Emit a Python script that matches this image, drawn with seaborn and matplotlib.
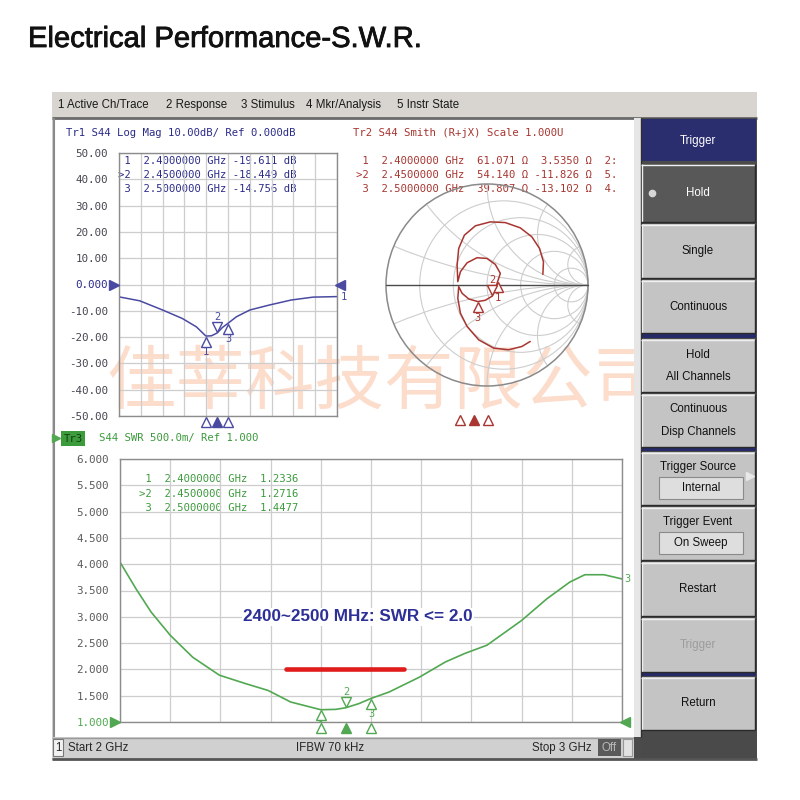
import numpy as np
import matplotlib
matplotlib.use("Agg")
import matplotlib.pyplot as plt
import matplotlib.patches as mpatches
import matplotlib.patheffects as pe
from matplotlib import font_manager
from matplotlib.transforms import offset_copy
import seaborn as sns

# ---- values ----
# Tr1: S44 log magnitude (dB)
tr1_freq = [2.0, 2.095, 2.2, 2.29, 2.355, 2.396, 2.4, 2.424, 2.45, 2.475, 2.5,
            2.538, 2.6, 2.69, 2.79, 2.89, 3.0]
tr1_db = [-4.7, -6.2, -9.7, -12.9, -16.1, -19.4, -19.611, -19.5, -18.449, -16.3,
          -14.756, -12.3, -9.7, -7.8, -5.9, -4.8, -4.6]

# Tr3: S44 SWR
tr3_freq = [2.0, 2.032, 2.062, 2.1, 2.145, 2.198, 2.25, 2.295, 2.34, 2.385, 2.4,
            2.43, 2.45, 2.476, 2.5, 2.536, 2.596, 2.648, 2.686, 2.731, 2.8, 2.85,
            2.896, 2.926, 2.964, 3.0]
tr3_swr = [4.04, 3.53, 3.09, 2.65, 2.23, 1.89, 1.73, 1.60, 1.38, 1.27, 1.2336,
           1.24, 1.2716, 1.35, 1.4477, 1.57, 1.85, 2.14, 2.30, 2.46, 2.93, 3.34,
           3.66, 3.80, 3.80, 3.72]

# Tr2: Smith chart trace as reflection coefficient (real, imag)
tr2_re = [0.553, 0.559, 0.520, 0.444, 0.329, 0.181, 0.033, -0.115, -0.224, -0.280,
          -0.296, -0.289, -0.263, -0.197, -0.099, 0.0, 0.082, 0.132, 0.105, 0.082,
          0.053, -0.016, -0.092, -0.181, -0.247, -0.280, -0.289, -0.263, -0.197,
          -0.082, 0.066, 0.214, 0.345, 0.428]
tr2_im = [0.105, 0.230, 0.362, 0.477, 0.566, 0.618, 0.625, 0.586, 0.493, 0.362,
          0.197, 0.033, 0.132, 0.220, 0.270, 0.263, 0.204, 0.115, 0.033, -0.039,
          -0.109, -0.151, -0.164, -0.138, -0.082, -0.016, -0.132, -0.280, -0.411,
          -0.543, -0.625, -0.641, -0.609, -0.559]

# markers
marker_freq = [2.4, 2.45, 2.5]
marker_db = [-19.611, -18.449, -14.756]
marker_swr = [1.2336, 1.2716, 1.4477]
marker_r = [61.071, 54.140, 39.807]
marker_x = [3.5350, -11.826, -13.102]
marker_cut = ["2:", "5.", "4."]
marker_re = [0.105, 0.053, -0.092]
marker_im = [0.033, -0.109, -0.164]
active_marker = 1

# spec line drawn on the SWR trace
spec_freq = [2.33, 2.565]
spec_swr = [2.0, 2.0]

db_ticks = [50, 40, 30, 20, 10, 0, -10, -20, -30, -40, -50]
db_labels = ["50.00", "40.00", "30.00", "20.00", "10.00", "0.000",
             "-10.00", "-20.00", "-30.00", "-40.00", "-50.00"]
swr_ticks = [6.0, 5.5, 5.0, 4.5, 4.0, 3.5, 3.0, 2.5, 2.0, 1.5, 1.0]
swr_labels = ["6.000", "5.500", "5.000", "4.500", "4.000", "3.500",
              "3.000", "2.500", "2.000", "1.500", "1.000"]

menu_items = ["1 Active Ch/Trace", "2 Response", "3 Stimulus", "4 Mkr/Analysis", "5 Instr State"]
menu_x = [58, 166, 241, 306, 397]

softkeys = [
    ("Hold", 164, 222, "dark"),
    ("Single", 224, 278, "normal"),
    ("Continuous", 280, 333, "normal"),
    ("Hold\nAll Channels", 339, 392, "normal"),
    ("Continuous\nDisp Channels", 394, 447, "normal"),
    ("Trigger Source\nInternal", 452, 505, "field"),
    ("Trigger Event\nOn Sweep", 507, 560, "field"),
    ("Restart", 562, 616, "normal"),
    ("Trigger", 618, 672, "disabled"),
    ("Return", 677, 730, "normal"),
]

BLUE = "#4a4aa2"
BLUE_TXT = "#2b2b8a"
RED = "#a83530"
GREEN = "#52a852"
GRID = "#cdcdcd"
MONO = "DejaVu Sans Mono"

sns.set_theme(style="white")
plt.rcParams["font.family"] = ["DejaVu Sans", "Noto Sans CJK SC"]

names = {f.name for f in font_manager.fontManager.ttflist}
HAS_NARROW = "Liberation Sans Narrow" in names
UI = ["Liberation Sans Narrow", "Liberation Sans"] if HAS_NARROW else ["Liberation Sans"]
UI_SIZE = 9.5 if HAS_NARROW else 8.3

fig = plt.figure(figsize=(8, 8), dpi=100, facecolor="white")


def box(x0, y0, x1, y1):
    return [x0 / 800, 1 - y1 / 800, (x1 - x0) / 800, (y1 - y0) / 800]


ui = fig.add_axes([0, 0, 1, 1])
ui.set_xlim(0, 800)
ui.set_ylim(800, 0)
ui.axis("off")


def rect(x0, y0, x1, y1, fc, ec="none", lw=0.0, z=1):
    ui.add_patch(mpatches.Rectangle((x0, y0), x1 - x0, y1 - y0, fc=fc, ec=ec, lw=lw, zorder=z))


def hline(x0, x1, y, c, lw=1.0, z=3):
    ui.plot([x0, x1], [y, y], color=c, lw=lw, zorder=z, solid_capstyle="butt")


def vline(x, y0, y1, c, lw=1.0, z=3):
    ui.plot([x, x], [y0, y1], color=c, lw=lw, zorder=z, solid_capstyle="butt")


# title
ui.text(28, 47, "Electrical Performance-S.W.R.", fontsize=21, family="Liberation Sans",
        color="#111111", va="baseline", ha="left",
        path_effects=[pe.withStroke(linewidth=0.6, foreground="#111111")])

# window frame, menu bar, display
rect(52, 92, 757, 760, "#cfcfcf")
rect(52, 92, 757, 117, "#d8d5d0", z=2)
hline(52, 757, 117.5, "#6a6a6a", lw=2)
for item, x in zip(menu_items, menu_x):
    ui.text(x, 105, item, fontsize=UI_SIZE, family=UI, color="#1a1a1a", va="center", ha="left", zorder=3)
rect(55, 119, 634, 737, "white", z=1)
vline(54, 118, 758, "#8a8a8a", lw=1.5)

# watermark
ui.text(106, 383, "佳莘科技有限公司", fontsize=50, family=["Noto Sans CJK SC"],
        color="#fcdccb", va="center", ha="left", zorder=2)

# status bar
rect(52, 737, 634, 758, "#d0d0d0", z=3)
hline(52, 634, 737.5, "#9a9a9a", z=4)
rect(53, 739, 63, 756, "#f2f2f2", ec="#777777", lw=0.8, z=4)
ui.text(58, 748, "1", fontsize=UI_SIZE, family=UI, ha="center", va="center", zorder=5)
ui.text(68, 748, "Start 2 GHz", fontsize=UI_SIZE, family=UI, ha="left", va="center", zorder=5)
ui.text(330, 748, "IFBW 70 kHz", fontsize=UI_SIZE, family=UI, ha="center", va="center", zorder=5)
ui.text(592, 748, "Stop 3 GHz", fontsize=UI_SIZE, family=UI, ha="right", va="center", zorder=5)
rect(598, 739, 621, 756, "#5a5a5a", z=4)
ui.text(609.5, 748, "Off", fontsize=UI_SIZE, family=UI, color="#b8b8b8", ha="center", va="center", zorder=5)
rect(623, 739, 632, 756, "#e2e2e2", ec="#999999", lw=0.8, z=4)
hline(52, 757, 759, "#555555", lw=2, z=6)

# softkey panel
rect(634, 118, 757, 760, "#4b4b4b", z=4)
rect(634, 118, 641, 737, "#e6e6e6", z=5)
vline(640.5, 118, 737, "#303030", z=6)
rect(641, 119, 756, 161, "#2a2d6e", z=5)
ui.text(698, 141, "Trigger", fontsize=UI_SIZE, family=UI, color="white", ha="center", va="center", zorder=7)
for y0, y1 in [(333, 338), (447, 451), (672, 676)]:
    rect(641, y0, 756, y1, "#262a66", z=5)
for label, y0, y1, kind in softkeys:
    fc = "#585858" if kind == "dark" else "#c4c4c4"
    rect(641, y0, 755, y1, fc, z=5)
    hline(641, 755, y0 + 0.5, "#f0f0f0", z=6)
    vline(641.5, y0, y1, "#f0f0f0", z=6)
    hline(641, 755, y1 - 0.5, "#2a2a2a", z=6)
    vline(754.5, y0, y1, "#2a2a2a", z=6)
    tc = {"dark": "white", "disabled": "#9c9c9c"}.get(kind, "#111111")
    lines = label.split("\n")
    ym = (y0 + y1) / 2
    if kind == "field":
        ui.text(698, y0 + 15, lines[0], fontsize=UI_SIZE, family=UI, color=tc, ha="center", va="center", zorder=7)
        rect(659, y0 + 25, 743, y0 + 47, "#dedede", ec="#8a8a8a", lw=0.8, z=6)
        ui.text(701, y0 + 36, lines[1], fontsize=UI_SIZE, family=UI, color=tc, ha="center", va="center", zorder=7)
    elif len(lines) == 2:
        ui.text(698, ym - 11, lines[0], fontsize=UI_SIZE, family=UI, color=tc, ha="center", va="center", zorder=7)
        ui.text(698, ym + 11, lines[1], fontsize=UI_SIZE, family=UI, color=tc, ha="center", va="center", zorder=7)
    else:
        ui.text(698, ym, label, fontsize=UI_SIZE, family=UI, color=tc, ha="center", va="center", zorder=7)
    if kind == "dark":
        ui.plot(652, ym, "o", ms=4.5, color="#d6d6d6", zorder=7)
ui.plot(750, 476, ">", ms=6, color="#e8e8e8", zorder=7)
rect(641, 732, 756, 758, "#4a4a4a", z=5)


# ---- helpers for the measurement plots ----
def style_rect_axes(ax, ticks, labels, ref_label, ref_color, label_color):
    ax.patch.set_alpha(0)
    ax.set_xlim(2, 3)
    ax.set_xticks(np.linspace(2, 3, 11))
    ax.set_xticklabels([])
    ax.set_yticks(ticks)
    ax.set_yticklabels(labels)
    ax.grid(True, color=GRID, lw=0.9)
    ax.tick_params(length=0, pad=8, labelsize=7.8)
    for lbl in ax.get_yticklabels():
        lbl.set_fontfamily(MONO)
        lbl.set_color(ref_color if lbl.get_text() == ref_label else label_color)
    for s in ax.spines.values():
        s.set_color("#8c8c8c")
        s.set_linewidth(1.0)
    ax.set_xlabel("")
    ax.set_ylabel("")


def draw_markers(ax, xs, ys, color):
    for i, (x, y) in enumerate(zip(xs, ys)):
        sign = 1 if i == active_marker else -1
        tri = offset_copy(ax.transData, fig=fig, y=sign * 4, units="points")
        lab = offset_copy(ax.transData, fig=fig, y=sign * 11.5, units="points")
        ax.plot(x, y, marker="v" if sign > 0 else "^", ms=6.5, mfc="white", mec=color, mew=1.0,
                transform=tri, clip_on=False, zorder=6)
        ax.text(x, y, str(i + 1), transform=lab, ha="center", va="center", color=color,
                fontsize=7.5, family=MONO, zorder=6)


def draw_indicators(ax, xs, y, color):
    tr = offset_copy(ax.transData, fig=fig, y=-4.5, units="points")
    for i, x in enumerate(xs):
        ax.plot(x, y, marker="^", ms=6.5, mec=color, mew=1.0,
                mfc=color if i == active_marker else "white", transform=tr, clip_on=False, zorder=6)


def ref_arrows(ax, y, color):
    left = offset_copy(ax.transData, fig=fig, x=-3.5, units="points")
    right = offset_copy(ax.transData, fig=fig, x=2.5, units="points")
    ax.plot(2.0, y, marker=">", ms=7, color=color, transform=left, clip_on=False, zorder=6)
    ax.plot(3.0, y, marker="<", ms=7, color=color, transform=right, clip_on=False, zorder=6)


# ---- Tr1: log mag ----
ax1 = fig.add_axes(box(119, 153, 337, 416))
sns.lineplot(x=tr1_freq, y=tr1_db, ax=ax1, color=BLUE, linewidth=1.1, estimator=None, sort=False)
ax1.set_ylim(-50, 50)
style_rect_axes(ax1, db_ticks, db_labels, "0.000", BLUE_TXT, "#454550")
draw_markers(ax1, marker_freq, marker_db, BLUE)
draw_indicators(ax1, marker_freq, -50, BLUE)
ref_arrows(ax1, 0, BLUE)
end1 = offset_copy(ax1.transData, fig=fig, x=3, units="points")
ax1.text(tr1_freq[-1], tr1_db[-1], "1", transform=end1, color=BLUE, fontsize=7.5, family=MONO,
         ha="left", va="center")

ui.text(66, 133, "Tr1 S44 Log Mag 10.00dB/ Ref 0.000dB", fontsize=7.7, family=MONO,
        color=BLUE_TXT, va="center", zorder=3)
for i, (f, v) in enumerate(zip(marker_freq, marker_db)):
    p = (">" if i == active_marker else " ") + str(i + 1)
    ui.text(118, [161, 175, 189][i], f"{p}  {f:.7f} GHz {v:.3f} dB", fontsize=7.6,
            family=MONO, color=BLUE_TXT, va="center", zorder=3)

# ---- Tr2: Smith chart ----
ax2 = fig.add_axes(box(376, 174, 598, 426))
ax2.set_xlim(-1.099, 1.099)
ax2.set_ylim(-1.396, 1.099)
ax2.axis("off")
clip = mpatches.Circle((0, 0), 1, fc="none", ec="none")
ax2.add_patch(clip)
for r in [0.2, 0.5, 1, 2, 5]:
    ax2.add_patch(mpatches.Circle((r / (1 + r), 0), 1 / (1 + r), fill=False, ec=GRID, lw=0.8))
for xr in [0.2, 0.5, 1, 2, 5]:
    for s in [1, -1]:
        arc = mpatches.Circle((1, s / xr), 1 / xr, fill=False, ec=GRID, lw=0.8)
        ax2.add_patch(arc)
        arc.set_clip_path(clip)
ax2.add_patch(mpatches.Circle((0, 0), 1, fill=False, ec="#8a8a8a", lw=1.1))
ax2.plot([-1, 1], [0, 0], color="#4a4a4a", lw=1.0)
sns.lineplot(x=tr2_re, y=tr2_im, ax=ax2, color=RED, linewidth=1.1, estimator=None, sort=False)
draw_markers(ax2, marker_re, marker_im, RED)

ind = fig.add_axes(box(348, 414, 628, 426))
ind.set_xlim(2, 3)
ind.set_ylim(0, 1)
ind.axis("off")
for i, f in enumerate(marker_freq):
    ind.plot(f, 0.5, marker="^", ms=6.5, mec=RED, mew=1.0, mfc=RED if i == active_marker else "white")

ui.text(353, 133, "Tr2 S44 Smith (R+jX) Scale 1.000U", fontsize=7.7, family=MONO,
        color=RED, va="center", zorder=3)
for i, (f, r, x, c) in enumerate(zip(marker_freq, marker_r, marker_x, marker_cut)):
    p = (">" if i == active_marker else " ") + str(i + 1)
    ui.text(356, [161, 175, 189][i], f"{p}  {f:.7f} GHz  {r:#.5g} Ω {x:>#7.5g} Ω  {c}",
            fontsize=7.6, family=MONO, color=RED, va="center", zorder=3)

# ---- Tr3: SWR ----
ax3 = fig.add_axes(box(120, 459, 622, 722))
sns.lineplot(x=tr3_freq, y=tr3_swr, ax=ax3, color=GREEN, linewidth=1.2, estimator=None, sort=False)
sns.lineplot(x=spec_freq, y=spec_swr, ax=ax3, color="#e01c1c", linewidth=3.3, estimator=None, sort=False)
ax3.set_ylim(1, 6)
style_rect_axes(ax3, swr_ticks, swr_labels, "1.000", GREEN, "#5a5a5a")
draw_markers(ax3, marker_freq, marker_swr, GREEN)
draw_indicators(ax3, marker_freq, 1.0, GREEN)
ref_arrows(ax3, 1.0, GREEN)
end3 = offset_copy(ax3.transData, fig=fig, x=2, units="points")
ax3.text(tr3_freq[-1], tr3_swr[-1], "3", transform=end3, color=GREEN, fontsize=7.5, family=MONO,
         ha="left", va="center")
ax3.text(2.474, 3.0, "2400~2500 MHz: SWR <= 2.0", ha="center", va="center", color="#2c2f96",
         fontsize=14.5 if HAS_NARROW else 12.3, fontweight="bold", family=UI,
         bbox=dict(fc="white", ec="none", pad=1.0), zorder=5)

ui.plot(56, 438, ">", ms=6, color=GREEN, zorder=3)
rect(61, 431, 85, 446, "#3c9c3c", z=3)
ui.text(73, 438.5, "Tr3", fontsize=7.7, family=MONO, color="#103f10", ha="center", va="center", zorder=4)
ui.text(99, 438, "S44 SWR 500.0m/ Ref 1.000", fontsize=7.7, family=MONO, color="#3c9a3c",
        va="center", zorder=3)
for i, (f, v) in enumerate(zip(marker_freq, marker_swr)):
    p = (">" if i == active_marker else " ") + str(i + 1)
    ui.text(139, [479, 494, 508][i], f"{p}  {f:.7f} GHz  {v:.4f}", fontsize=7.6,
            family=MONO, color="#3c9a3c", va="center", zorder=3)

fig.savefig("out.png", dpi=100)
